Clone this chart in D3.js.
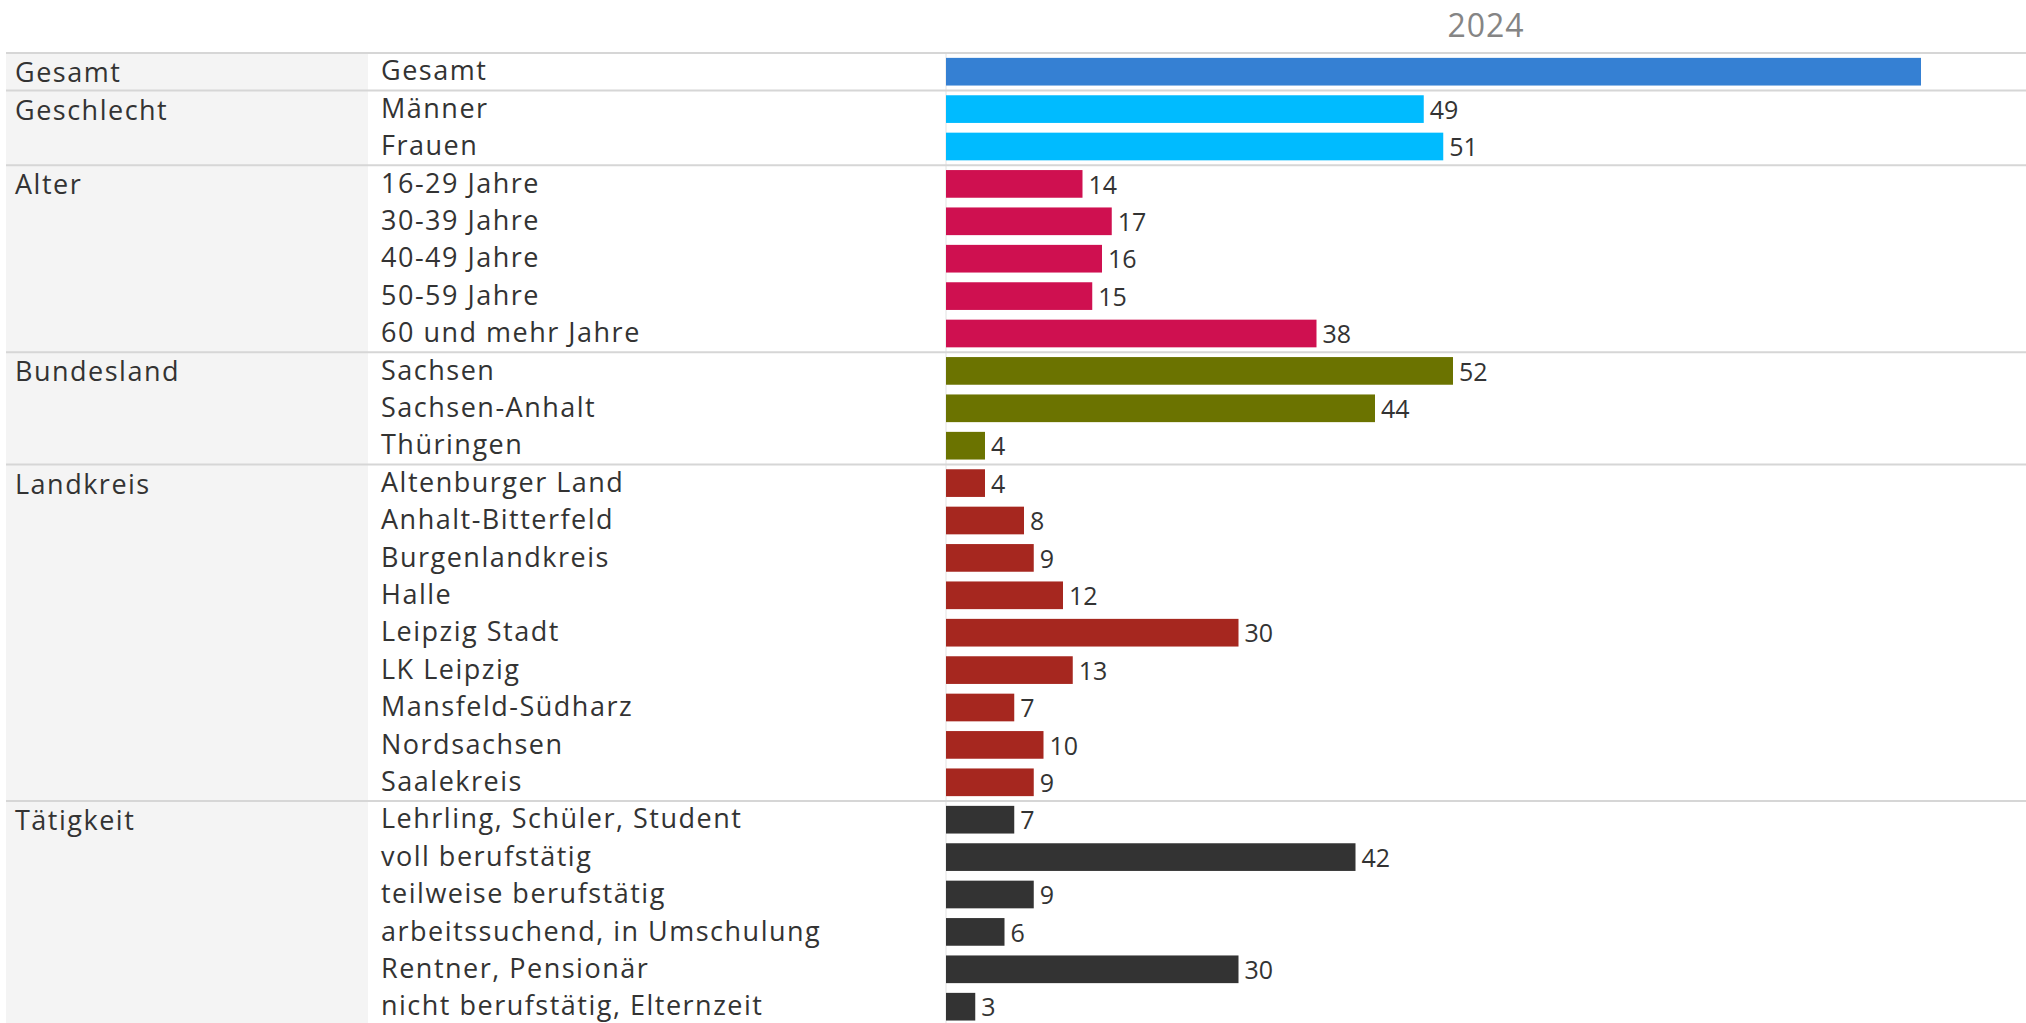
<!DOCTYPE html>
<html lang="de">
<head>
  <meta charset="UTF-8">
  <title>2024</title>
  <script src="https://d3js.org/d3.v7.min.js"></script>
  <style>
    body { margin: 0; background: #fff; }
    text { font-family: "Open Sans", sans-serif; }
  </style>
</head>
<body>
  <div id="root"></div>
  <script>
    // Daten
    const year = '2024'
    const groups = ['Gesamt', 'Geschlecht', 'Alter', 'Bundesland', 'Landkreis', 'Tätigkeit']
    const categories = [
      ['Gesamt'],
      ['Männer', 'Frauen'],
      ['16-29 Jahre', '30-39 Jahre', '40-49 Jahre', '50-59 Jahre', '60 und mehr Jahre'],
      ['Sachsen', 'Sachsen-Anhalt', 'Thüringen'],
      ['Altenburger Land', 'Anhalt-Bitterfeld', 'Burgenlandkreis', 'Halle', 'Leipzig Stadt', 'LK Leipzig', 'Mansfeld-Südharz', 'Nordsachsen', 'Saalekreis'],
      ['Lehrling, Schüler, Student', 'voll berufstätig', 'teilweise berufstätig', 'arbeitssuchend, in Umschulung', 'Rentner, Pensionär', 'nicht berufstätig, Elternzeit']
    ]
    const values = [
      [100],
      [49, 51],
      [14, 17, 16, 15, 38],
      [52, 44, 4],
      [4, 8, 9, 12, 30, 13, 7, 10, 9],
      [7, 42, 9, 6, 30, 3]
    ]
    const colors = ['#3580d3', '#00bbff', '#cf1050', '#6b7300', '#a6271f', '#333333']

    // flache Zeilen
    const rows = []
    groups.forEach((g, gi) => {
      categories[gi].forEach((c, ci) => {
        rows.push({id: rows.length, group: gi, first: ci === 0, name: c, value: values[gi][ci]})
      })
    })

    const width = 2026
    const height = 1023
    const topY = 53
    const rowH = 37.4
    const barLeft = 946
    const barRight = 2026
    const labelSize = 27

    const svg = d3.select('#root')
      .append('svg')
      .attr('width', width)
      .attr('height', height)

    const x = d3.scaleLinear().domain([0, 100]).range([barLeft, 1921])
    const y = d3.scaleBand()
      .domain(rows.map(d => d.id))
      .range([topY, topY + rows.length * rowH])
      .paddingInner(0.26)
      .paddingOuter(0.13)
    const step = y.step()
    const rowStart = d => y(d.id) - y.paddingOuter() * step

    // linke Spalte grau
    svg.append('rect')
      .attr('x', 6).attr('y', topY)
      .attr('width', 362).attr('height', height - topY)
      .attr('fill', '#f4f4f4')

    // Jahr
    svg.append('text')
      .attr('x', (barLeft + barRight) / 2)
      .attr('y', 26)
      .attr('dy', '0.35em')
      .attr('text-anchor', 'middle')
      .attr('font-size', 32)
      .attr('letter-spacing', 1)
      .attr('fill', '#858585')
      .text(year)

    // vertikale Linie an der Null
    svg.append('line')
      .attr('x1', x(0)).attr('x2', x(0))
      .attr('y1', topY).attr('y2', height)
      .attr('stroke', '#e2e2e2').attr('stroke-width', 1)

    // Trennlinien zwischen Gruppen
    const seps = rows.filter(d => d.first)
    svg.selectAll('line.sep')
      .data(seps)
      .enter()
      .append('line')
      .attr('class', 'sep')
      .attr('x1', 6).attr('x2', width)
      .attr('y1', rowStart)
      .attr('y2', rowStart)
      .attr('stroke', '#d6d6d6').attr('stroke-width', 2)

    // Gruppennamen
    svg.selectAll('text.group')
      .data(seps)
      .enter()
      .append('text')
      .attr('class', 'group')
      .attr('x', 15)
      .attr('y', d => y(d.id) + y.bandwidth() / 2 + 1)
      .attr('dy', '0.35em')
      .attr('font-size', labelSize)
      .attr('letter-spacing', 1.5)
      .attr('fill', '#333')
      .text(d => groups[d.group])

    // Kategorien als Achse
    const yAxis = d3.axisRight(y).tickSize(0).tickPadding(0).tickFormat(i => rows[i].name)
    const yAxisG = svg.append('g')
      .attr('transform', 'translate(381,0)')
      .call(yAxis)
    yAxisG.select('.domain').remove()
    yAxisG.selectAll('text')
      .attr('font-family', '"Open Sans", sans-serif')
      .attr('font-size', labelSize)
      .attr('letter-spacing', 1.5)
      .attr('fill', '#333')

    // Balken
    svg.selectAll('rect.bar')
      .data(rows)
      .enter()
      .append('rect')
      .attr('class', 'bar')
      .attr('x', x(0))
      .attr('y', d => y(d.id))
      .attr('width', d => x(d.value) - x(0))
      .attr('height', y.bandwidth())
      .attr('fill', d => colors[d.group])

    // Werte
    svg.selectAll('text.val')
      .data(rows.filter(d => d.group > 0))
      .enter()
      .append('text')
      .attr('class', 'val')
      .attr('x', d => x(d.value) + 6)
      .attr('y', d => y(d.id) + y.bandwidth() / 2 + 1)
      .attr('dy', '0.35em')
      .attr('font-size', 25)
      .attr('fill', '#333')
      .text(d => d.value)
  </script>
</body>
</html>
